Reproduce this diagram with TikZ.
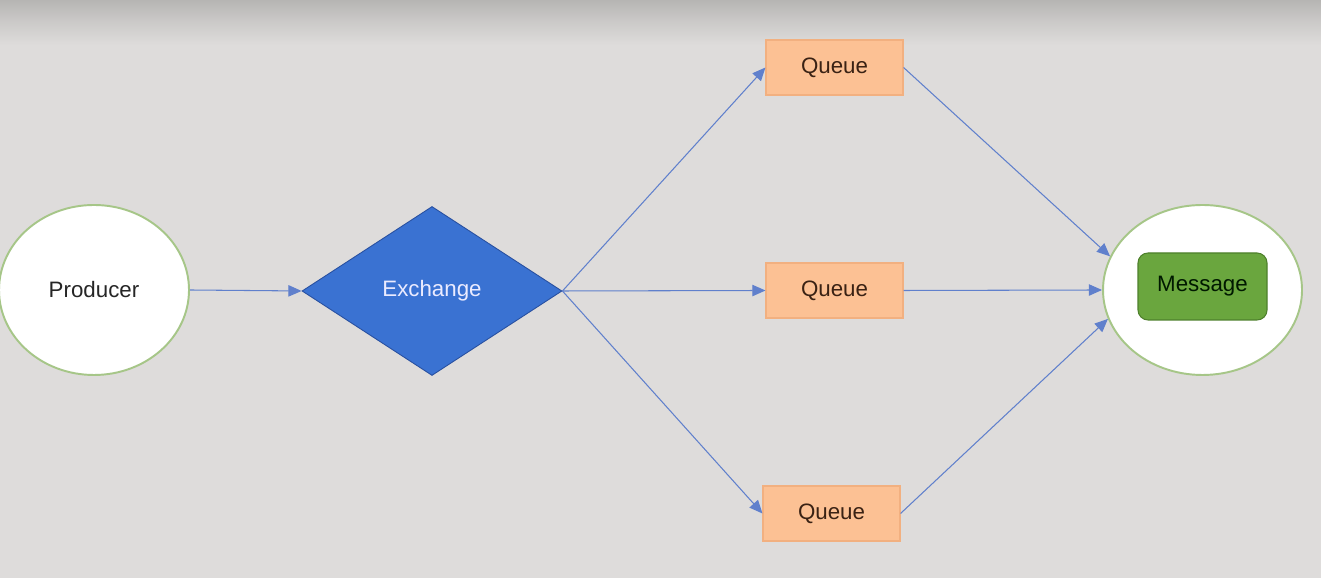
\documentclass[tikz,border=0pt]{standalone}
\usepackage{fontspec}
\setmainfont{Liberation Sans}
\usetikzlibrary{shapes.geometric,arrows.meta}

\definecolor{bggray}{RGB}{222,220,219}
\definecolor{topgray}{RGB}{182,181,179}
\definecolor{linkblue}{RGB}{96,128,204}
\definecolor{ringgreen}{RGB}{166,198,136}
\definecolor{exblue}{RGB}{58,114,210}
\definecolor{exline}{RGB}{40,80,160}
\definecolor{queuefill}{RGB}{252,193,148}
\definecolor{queueline}{RGB}{242,176,128}
\definecolor{queuetext}{RGB}{58,34,20}
\definecolor{msgfill}{RGB}{106,166,62}
\definecolor{msgline}{RGB}{78,128,44}

\begin{document}
\begin{tikzpicture}[
    lbl/.style={font=\fontsize{12.7}{15}\selectfont},
    edge/.style={draw=linkblue, line width=0.6pt, -{Triangle[length=7.5pt,width=6.5pt]}},
    queuebox/.style={rectangle, draw=queueline, fill=queuefill, line width=0.6pt,
        minimum width=2.74cm, minimum height=1.1cm, lbl, text=queuetext},
    endpoint/.style={ellipse, draw=ringgreen, fill=white, line width=1.1pt, inner sep=0pt}
]
    % 背景
    \useasboundingbox (0,0) rectangle (26.42,11.56);
    \fill[bggray] (0,0) rectangle (26.42,11.56);
    \shade[top color=topgray, bottom color=bggray, middle color=topgray!45!bggray] (0,10.66) rectangle (26.42,11.56);

    % 生产者与交换机
    \node[endpoint, minimum width=3.8cm, minimum height=3.4cm, lbl, text=black!85] (producer) at (1.88,5.76) {Producer};
    \node[diamond, draw=exline, fill=exblue, line width=0.5pt, inner sep=0pt,
        minimum width=5.2cm, minimum height=3.38cm, lbl, text=white!92!blue] (exchange) at (8.64,5.74) {Exchange};

    % 三个队列
    \node[queuebox] (qtop) at (16.69,10.21) {Queue};
    \node[queuebox] (qmid) at (16.69,5.75) {Queue};
    \node[queuebox] (qbot) at (16.63,1.29) {Queue};

    % 消费端
    \node[endpoint, minimum width=3.98cm, minimum height=3.4cm] (consumer) at (24.05,5.76) {};
    \node[rectangle, rounded corners=0.2cm, draw=msgline, fill=msgfill, line width=0.6pt,
        minimum width=2.58cm, minimum height=1.34cm, lbl, text=black!90!green] (message) at (24.05,5.83) {Message};

    % 连线
    \draw[edge] (producer.east) -- (exchange.west);
    \foreach \q in {qtop, qmid, qbot} {
        \draw[edge] (exchange.east) -- (\q.west);
    }
    \draw[edge] (qtop.east) -- (consumer.160);
    \draw[edge] (qmid.east) -- (consumer.west);
    \draw[edge] (qbot.east) -- (consumer.197);
\end{tikzpicture}
\end{document}
